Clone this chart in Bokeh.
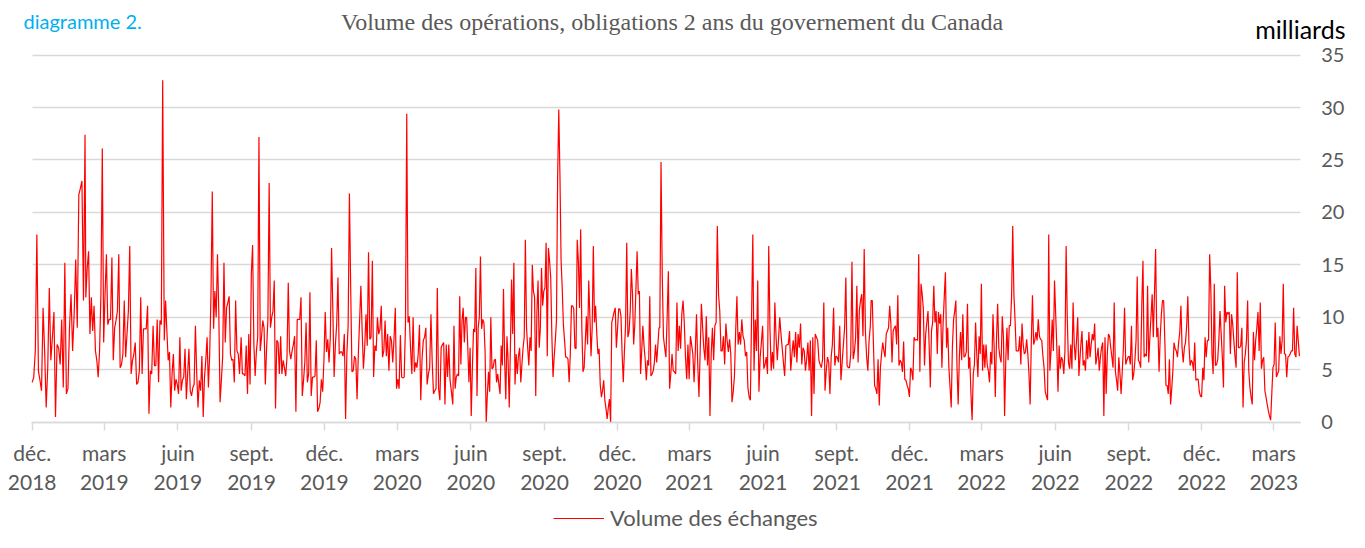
import pandas as pd
from bokeh.plotting import figure
from bokeh.models import Range1d, FixedTicker, Label, Legend, LegendItem, Grid
from bokeh.embed import file_html
from bokeh.resources import INLINE

# ---------------- data ----------------
title_text = "Volume des opérations, obligations 2 ans du governement du Canada"
chart_tag = "diagramme 2."
unit_text = "milliards"
series_name = "Volume des échanges"

origin_date = "2018-12-01"
last_date = "2023-04-03"

seg1a_dates = ("2018-12-01", "2019-02-05")
seg1a_values = [3.8, 4.3, 6.8, 17.9, 4.9, 4.0, 3.0, 10.9, 6.8, 1.4, 5.2, 12.8, 5.9, 8.1, 10.5, 0.5, 7.4, 7.1, 5.5, 9.8,
                3.3, 15.2, 2.7, 3.2, 9.0, 12.2, 6.8, 10.3, 15.5, 9.0, 21.7, 22.3, 23.0, 11.6, 27.4]

seg1b_dates = ("2019-02-06", "2019-05-13")
seg1b_values = [11.9, 14.7, 16.3, 8.4, 11.9, 8.7, 11.1, 6.8, 5.9, 4.3, 6.8, 12.2, 26.1, 7.6, 12.2, 16.0, 9.3, 9.8, 9.8,
                15.7, 5.9, 9.0, 9.7, 10.6, 16.0, 5.2, 5.5, 6.5, 11.6, 6.2, 8.4, 10.6, 16.8, 4.6, 5.9, 6.5, 7.6, 3.6,
                3.8, 4.9, 11.9, 4.6, 8.9, 8.9, 8.9, 11.1, 0.8, 4.9, 4.6, 9.2, 5.4, 5.4, 9.8, 3.8, 9.7, 9.3, 32.6]

seg1c_dates = ("2019-05-15", "2019-08-17")
seg1c_values = [7.8, 11.6, 8.7, 5.9, 6.7, 1.4, 4.6, 6.5, 3.0, 4.1, 3.6, 2.7, 8.1, 3.0, 4.0, 4.3, 7.0, 2.2, 4.6, 7.0,
                3.0, 2.5, 3.3, 3.6, 9.2, 4.6, 1.4, 4.0, 3.0, 6.3, 0.5, 4.3, 5.9, 8.1, 3.3, 6.5, 12.2, 22.0, 8.9, 12.5,
                10.0, 16.0, 10.6, 1.9, 4.0, 6.2, 15.2, 7.6, 10.9, 11.4, 12.0, 6.5, 5.9, 6.0, 3.8, 11.6, 6.8, 6.5, 4.6]

seg2_dates = ("2019-08-19", "2020-05-06")
seg2_values = [8.1, 4.6, 4.6, 4.4, 7.3, 2.7, 8.4, 3.6, 14.1, 16.9, 7.4, 4.4, 6.8, 8.1, 27.2, 6.8, 8.1, 9.7, 9.0, 3.6,
               7.1, 9.7, 22.8, 9.0, 10.0, 10.6, 13.5, 1.3, 7.8, 7.6, 4.6, 8.2, 4.6, 5.9, 5.2, 4.4, 6.2, 13.3, 6.8, 6.0,
               6.8, 7.4, 8.2, 1.0, 9.8, 9.8, 9.8, 11.9, 2.5, 4.0, 5.7, 9.5, 3.8, 4.6, 12.4, 2.5, 4.3, 4.3, 4.4, 7.8,
               1.0, 1.3, 1.9, 4.1, 2.9, 5.9, 10.5, 6.7, 7.9, 5.7, 8.1, 16.6, 10.6, 4.3, 7.4, 9.3, 13.8, 6.5, 6.7, 6.7,
               6.3, 8.4, 0.3, 6.5, 9.3, 21.8, 12.8, 4.8, 4.9, 6.3, 6.0, 2.2, 6.5, 9.7, 13.0, 8.7, 5.1, 7.1, 10.3, 7.3,
               16.2, 7.9, 8.1, 15.4, 4.3, 7.3, 6.8, 10.0, 8.4, 8.9, 11.1, 6.2, 6.8, 9.7, 6.3, 8.4, 4.9, 8.2, 7.8, 5.7,
               7.9, 10.9, 3.2, 4.1, 3.2, 8.3, 4.3, 4.2, 4.3, 9.3, 29.4, 9.5, 10.1, 7.0, 4.6, 10.0, 4.8, 5.7, 5.2, 6.5,
               9.3, 2.1, 6.0, 7.8, 8.1, 9.0, 3.6, 4.6, 5.2, 10.3, 5.7, 2.7, 3.0, 3.2, 12.8, 3.2, 2.1, 7.1, 7.4, 7.6,
               1.7, 7.4, 4.3, 7.4, 4.0]

seg3_dates = ("2020-05-08", "2021-01-22")
seg3_values = [2.7, 1.7, 9.2, 3.2, 4.3, 4.6, 4.4, 12.0, 5.5, 9.7, 10.9, 7.6, 10.0, 10.0, 7.1, 3.8, 7.1, 0.6, 5.2, 8.9,
               8.6, 14.7, 2.5, 9.0, 10.0, 15.8, 8.9, 9.8, 9.5, 6.8, 0.0, 2.7, 4.8, 2.9, 10.0, 5.1, 5.2, 5.9, 6.0, 3.8,
               4.6, 3.6, 2.7, 7.3, 5.4, 12.7, 5.9, 2.2, 8.2, 5.9, 1.4, 7.1, 13.6, 8.4, 15.2, 3.6, 6.5, 4.6, 6.3, 7.1,
               3.8, 5.5, 7.1, 8.1, 17.4, 9.0, 7.1, 5.4, 8.1, 6.8, 15.0, 12.5, 11.9, 2.5, 10.5, 13.5, 7.1, 9.0, 14.7, 11.1,
               12.5, 12.8, 17.1, 6.3, 16.6, 15.4, 13.8, 8.2, 4.3, 6.2, 7.8, 9.7, 23.3, 29.8, 23.6, 15.4, 12.8, 9.3, 7.8, 6.2,
               6.2, 6.0, 3.8, 6.5, 11.1, 11.1, 10.8, 7.1, 7.0, 17.4, 15.4, 10.9, 18.4, 9.0, 4.8, 5.2, 7.6, 10.1, 7.4, 13.5,
               10.1, 6.3, 9.0, 16.8, 9.5, 11.1, 8.4, 6.5, 7.0, 3.6, 2.4, 3.0, 4.0, 2.1, 1.3, 0.3, 1.4, 2.2, 0.0, 9.5,
               10.0, 10.5, 10.9, 7.1, 8.9, 10.8, 10.8, 10.1, 6.5, 3.8, 6.8, 9.3, 17.1, 8.1, 8.6, 10.5, 14.6, 12.2, 7.4, 9.3,
               12.8, 16.3, 12.2, 12.5, 4.6, 6.8, 9.2, 7.3, 6.0, 4.0, 5.9, 5.4, 12.0, 4.4, 4.6, 4.9, 5.7, 7.4, 5.7, 7.3,
               9.0]

seg4_dates = ("2021-01-23", "2021-10-13")
seg4_values = [9.0, 24.8, 14.1, 8.1, 7.1, 6.2, 10.0, 14.4, 3.2, 4.6, 6.5, 4.9, 4.8, 4.6, 11.4, 6.8, 9.2, 7.0, 10.3, 11.6,
               9.5, 6.2, 4.1, 7.4, 4.1, 8.2, 7.4, 6.5, 3.8, 6.7, 10.3, 5.5, 2.4, 6.8, 11.3, 9.0, 7.0, 5.9, 10.1, 5.4,
               8.1, 0.6, 6.5, 9.0, 5.9, 9.2, 9.5, 18.7, 12.2, 10.6, 6.8, 6.8, 8.2, 5.5, 9.4, 7.8, 6.7, 7.9, 6.5, 1.9,
               2.9, 4.4, 8.7, 12.0, 7.4, 8.6, 7.4, 9.8, 8.2, 7.8, 6.3, 6.7, 3.3, 2.4, 2.1, 10.3, 17.9, 4.9, 9.8, 6.8,
               13.5, 2.9, 6.2, 7.6, 9.2, 5.1, 5.5, 6.2, 4.6, 16.8, 9.0, 4.9, 6.7, 5.1, 11.4, 8.1, 5.9, 7.9, 10.0, 8.4,
               7.1, 5.7, 4.4, 7.3, 7.4, 7.4, 8.7, 4.9, 6.5, 7.8, 6.2, 8.6, 5.7, 8.4, 7.1, 9.4, 5.5, 7.1, 6.8, 4.9,
               6.0, 7.6, 4.9, 7.8, 0.6, 8.1, 2.7, 8.4, 8.1, 7.8, 5.9, 5.5, 5.2, 6.0, 11.4, 3.0, 4.9, 6.2, 5.7, 2.7,
               6.2, 7.4, 10.9, 5.4, 6.3, 6.2, 5.7, 9.2, 4.0, 5.7, 7.4, 9.0, 13.8, 5.4, 5.2, 5.2, 6.5, 15.3, 6.0, 6.7,
               8.1, 13.0, 5.7, 10.6, 11.6, 12.2, 8.2, 16.5, 8.6, 6.2, 4.9, 7.8, 9.2]

seg5_dates = ("2021-10-14", "2022-07-02")
seg5_values = [11.6, 11.6, 7.4, 3.5, 3.2, 2.7, 6.0, 1.6, 5.2, 6.5, 7.6, 6.8, 6.2, 8.4, 8.7, 9.0, 11.1, 9.4, 5.7, 8.7,
               9.0, 9.2, 7.4, 12.1, 5.4, 5.9, 5.7, 4.8, 7.7, 4.1, 4.0, 3.5, 3.2, 2.4, 5.2, 4.9, 4.0, 8.1, 7.8, 7.9,
               7.8, 16.0, 4.8, 13.2, 12.2, 10.8, 5.4, 8.4, 9.5, 10.6, 7.3, 3.3, 8.7, 9.5, 13.0, 9.5, 10.6, 6.5, 10.5, 9.4,
               10.3, 5.2, 9.4, 11.9, 14.3, 7.1, 9.0, 5.2, 3.3, 1.4, 7.1, 9.7, 10.6, 11.6, 5.2, 1.7, 6.2, 8.6, 5.9, 10.3,
               6.2, 6.3, 6.7, 11.3, 5.1, 6.2, 2.7, 0.2, 4.6, 5.5, 9.5, 6.5, 4.3, 8.2, 6.5, 13.2, 4.9, 7.4, 5.2, 7.4,
               5.5, 4.9, 3.8, 6.7, 5.5, 10.3, 7.1, 2.4, 7.9, 11.3, 7.1, 6.2, 5.7, 10.1, 8.1, 0.6, 5.9, 9.0, 5.9, 9.2,
               9.2, 11.9, 18.7, 12.2, 9.7, 6.8, 6.8, 6.8, 8.2, 5.5, 9.4, 7.4, 6.5, 6.7, 7.9, 6.5, 4.6, 1.7, 7.6, 12.1,
               7.4, 7.8, 8.6, 7.8, 9.8, 8.2, 7.9, 7.8, 6.3, 5.2, 2.9, 2.5, 2.1, 17.9, 4.9, 6.8, 9.8, 6.8, 13.5, 10.3,
               7.1, 2.9, 7.3, 5.1, 6.2, 5.9, 4.6, 6.8, 16.8, 9.8, 5.7, 5.1, 7.4, 5.1, 11.4, 7.4, 5.9, 7.9, 10.0, 4.4,
               6.2]

seg6_dates = ("2022-07-03", "2023-04-02")
seg6_values = [7.4, 8.7, 5.4, 5.9, 4.9, 7.8, 6.0, 8.6, 6.2, 7.4, 8.4, 7.8, 9.4, 5.5, 6.2, 7.1, 4.9, 6.2, 7.1, 7.6,
               0.6, 8.1, 2.7, 6.5, 8.4, 8.2, 7.1, 6.2, 5.2, 11.4, 4.9, 4.0, 3.0, 6.2, 4.6, 2.7, 4.9, 7.1, 10.9, 5.5,
               5.9, 6.2, 6.3, 5.5, 9.2, 4.0, 4.6, 5.9, 7.8, 13.9, 5.9, 5.7, 5.2, 11.3, 15.4, 6.2, 6.5, 6.3, 13.0, 5.7,
               8.1, 10.1, 12.2, 8.1, 12.2, 16.5, 8.1, 9.0, 4.8, 8.1, 10.3, 11.6, 11.6, 7.8, 3.5, 3.5, 2.7, 6.0, 1.7, 3.2,
               4.9, 7.6, 7.0, 6.8, 6.2, 7.6, 8.6, 11.1, 7.1, 5.7, 7.1, 7.6, 9.2, 12.0, 7.4, 5.4, 5.9, 5.7, 4.9, 7.6,
               4.0, 4.1, 4.1, 2.9, 2.5, 2.4, 5.2, 4.0, 8.1, 6.2, 7.8, 7.8, 16.0, 12.7, 6.5, 4.6, 13.2, 5.4, 5.5, 6.0,
               7.9, 10.6, 8.4, 6.2, 3.3, 13.0, 9.5, 10.5, 10.3, 10.5, 6.5, 10.3, 9.4, 7.8, 6.3, 5.2, 14.3, 7.1, 7.1, 7.3,
               9.0, 1.4, 5.7, 6.5, 7.8, 11.6, 4.9, 3.3, 2.4, 1.7, 8.6, 5.9, 7.8, 9.0, 10.5, 6.8, 11.4, 5.1, 5.9, 6.2,
               3.0, 2.4, 1.7, 1.1, 0.6, 0.2, 2.7, 5.2, 5.5, 9.5, 4.3, 4.6, 4.9, 8.2, 6.5, 7.8, 13.2, 6.5, 6.5, 4.3,
               6.2, 6.3, 6.5, 6.8, 6.8, 10.9, 6.5, 6.2, 9.2, 7.8, 6.3]

tick_dates = ["2018-12-01", "2019-03-01", "2019-06-01", "2019-09-01", "2019-12-01", "2020-03-01",
              "2020-06-01", "2020-09-01", "2020-12-01", "2021-03-01", "2021-06-01", "2021-09-01",
              "2021-12-01", "2022-03-01", "2022-06-01", "2022-09-01", "2022-12-01", "2023-03-01"]
tick_labels = ["déc.\n2018", "mars\n2019", "juin\n2019", "sept.\n2019", "déc.\n2019", "mars\n2020",
               "juin\n2020", "sept.\n2020", "déc.\n2020", "mars\n2021", "juin\n2021", "sept.\n2021",
               "déc.\n2021", "mars\n2022", "juin\n2022", "sept.\n2022", "déc.\n2022", "mars\n2023"]
y_ticks = [0, 5, 10, 15, 20, 25, 30, 35]

# ---------------- build series ----------------
origin = pd.Timestamp(origin_date)
day = pd.Timedelta(days=1)
segments = [(seg1a_dates, seg1a_values), (seg1b_dates, seg1b_values), (seg1c_dates, seg1c_values),
            (seg2_dates, seg2_values), (seg3_dates, seg3_values), (seg4_dates, seg4_values),
            (seg5_dates, seg5_values), (seg6_dates, seg6_values)]
xs, ys = [], []
for (s, e), vals in segments:
    d = pd.date_range(s, e, periods=len(vals))
    xs.extend(((d - origin) / day).tolist())
    ys.extend(vals)

tick_pos = [float((pd.Timestamp(t) - origin) / day) for t in tick_dates]
x_end = float((pd.Timestamp(last_date) - origin) / day)

# ---------------- layout (whole canvas is the frame) ----------------
W, H = 1349, 532
PX_DAY, X_ZERO = 0.8005, 31.7      # canvas px per day, canvas x of origin date
PX_UNIT, Y_ZERO = 10.489, 421.7    # canvas px per unit, canvas y of value 0
X0, X1 = -X_ZERO / PX_DAY, (W - X_ZERO) / PX_DAY
Y0, Y1 = -(H - Y_ZERO) / PX_UNIT, Y_ZERO / PX_UNIT
FONT = "Lato"
GRAY = "#595959"


def dx(cx):
    return (cx - X_ZERO) / PX_DAY


def dy(cy):
    return (Y_ZERO - cy) / PX_UNIT


p = figure(width=W, height=H, min_border=0,
           x_range=Range1d(X0, X1), y_range=Range1d(Y0, Y1),
           y_axis_location="right", output_backend="svg", toolbar_location=None,
           background_fill_color="white", border_fill_color="white")
p.outline_line_color = None

r = p.line(xs, ys, line_color="#FF0000", line_width=1.2)

# y axis (right, fixed at the end of the series)
ya = p.yaxis[0]
ya.fixed_location = x_end
ya.ticker = FixedTicker(ticks=y_ticks)
ya.axis_line_color = None
ya.major_tick_line_color = None
ya.major_tick_out = 0
ya.major_tick_in = 0
ya.minor_tick_line_color = None
ya.minor_tick_out = 0
ya.major_label_standoff = 21
ya.major_label_text_font = FONT
ya.major_label_text_font_size = "20px"
ya.major_label_text_color = GRAY

p.ygrid.grid_line_color = "#d9d9d9"
p.ygrid.grid_line_width = 1.5
if "cross_bounds" in Grid.properties():
    p.ygrid.cross_bounds = (0.0, x_end)
p.xgrid.grid_line_color = None

# x axis (fixed at value 0)
xa = p.xaxis[0]
xa.fixed_location = 0
xa.bounds = (-0.5, x_end)
xa.ticker = FixedTicker(ticks=tick_pos)
xa.major_label_overrides = {tp: lab for tp, lab in zip(tick_pos, tick_labels)}
xa.axis_line_color = "#d9d9d9"
xa.axis_line_width = 1.5
xa.major_tick_line_color = "#d9d9d9"
xa.major_tick_line_width = 1.5
xa.major_tick_out = 8
xa.major_tick_in = 0
xa.minor_tick_line_color = None
xa.major_label_standoff = 10
xa.major_label_text_font = FONT
xa.major_label_text_font_size = "21px"
xa.major_label_text_color = GRAY
xa.major_label_text_line_height = 1.15
xa.major_label_orientation = "horizontal"

# title, tag and unit
p.add_layout(Label(x=dx(671.5), y=dy(21), text=title_text, text_align="center", text_baseline="alphabetic",
                   text_font="Liberation Serif", text_font_size="24px", text_color=GRAY))
p.add_layout(Label(x=dx(23), y=dy(20), text=chart_tag, text_align="left", text_baseline="alphabetic",
                   text_font=FONT, text_font_size="20px", text_color="#00B0F0"))
p.add_layout(Label(x=dx(1345), y=dy(28), text=unit_text, text_align="right", text_baseline="alphabetic",
                   text_font=FONT, text_font_size="25px", text_color="#000000"))

# legend
legend = Legend(items=[LegendItem(label=series_name, renderers=[r])], location=(553, 1),
                orientation="horizontal", padding=0, margin=0, spacing=0,
                glyph_width=51, glyph_height=20, label_height=20, label_standoff=6,
                label_text_font=FONT, label_text_font_size="22px", label_text_color=GRAY,
                border_line_color=None, background_fill_alpha=0)
p.add_layout(legend, "center")

open("out.html", "w").write(file_html(p, INLINE))
